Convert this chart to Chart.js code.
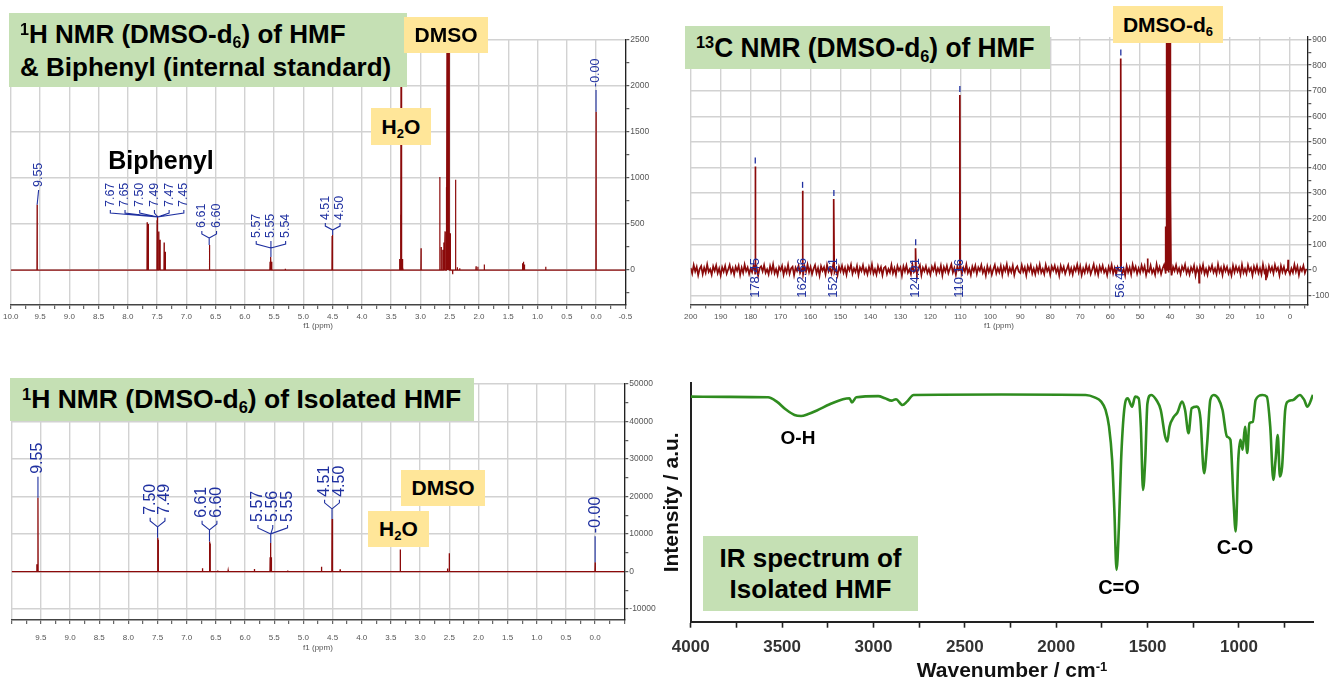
<!DOCTYPE html>
<html>
<head>
<meta charset="utf-8">
<script src="https://cdn.jsdelivr.net/npm/chart.js@4.4.1/dist/chart.umd.min.js"></script>
<style>
  html, body { margin: 0; padding: 0; background: #fff; }
  body { width: 1332px; height: 682px; position: relative; overflow: hidden;
         font-family: "Liberation Sans", Arial, sans-serif; }
  canvas { position: absolute; }
  .box { position: absolute; box-sizing: border-box; font-weight: bold; color: #000;
         display: flex; flex-direction: column; justify-content: center; white-space: nowrap; }
  .green { background: #c5e0b4; }
  .yellow { background: #ffe699; align-items: center; }
  .center { align-items: center; }
  .narrow { display: inline-block; transform-origin: left center; }
  .tag { position: absolute; font-weight: bold; color: #000; line-height: 1;
         transform: translate(-50%, -50%); white-space: nowrap; }
  sub { font-size: 62%; vertical-align: baseline; position: relative; top: 0.32em; }
  sup { font-size: 62%; vertical-align: baseline; position: relative; top: -0.48em; }
</style>
</head>
<body>
<canvas id="mix" width="660" height="335" style="left:0px;top:0px"></canvas>
<canvas id="carbon" width="672" height="335" style="left:660px;top:0px"></canvas>
<canvas id="iso" width="660" height="322" style="left:0px;top:360px"></canvas>
<canvas id="ir" width="692" height="322" style="left:640px;top:360px"></canvas>

<!-- 1H NMR of HMF + biphenyl -->
<div class="box green" style="left:9px;top:13px;width:398px;height:74px;padding-left:11px;font-size:26px;line-height:30px;">
  <div><sup>1</sup>H NMR (DMSO-d<sub>6</sub>) of HMF</div>
  <div>&amp; Biphenyl (internal standard)</div>
</div>
<div class="box yellow" style="left:404px;top:17px;width:84px;height:36px;font-size:21px;">DMSO</div>
<div class="box yellow" style="left:371px;top:108px;width:60px;height:37px;font-size:21px;"><span>H<sub>2</sub>O</span></div>
<div class="tag" style="left:161px;top:160px;font-size:25px;">Biphenyl</div>

<!-- 13C NMR -->
<div class="box green" style="left:685px;top:26px;width:365px;height:43px;padding-left:11px;font-size:28px;">
  <div><span class="narrow" style="transform:scaleX(0.94)"><sup>13</sup>C NMR (DMSO-d<sub>6</sub>) of HMF</span></div>
</div>
<div class="box yellow" style="left:1113px;top:6px;width:110px;height:37px;font-size:21px;"><span>DMSO-d<sub>6</sub></span></div>

<!-- 1H NMR of isolated HMF -->
<div class="box green" style="left:10px;top:378px;width:464px;height:43px;padding-left:12px;font-size:26.5px;">
  <div><sup>1</sup>H NMR (DMSO-d<sub>6</sub>) of Isolated HMF</div>
</div>
<div class="box yellow" style="left:401px;top:470px;width:84px;height:36px;font-size:21px;">DMSO</div>
<div class="box yellow" style="left:368px;top:511px;width:61px;height:36px;font-size:21px;"><span>H<sub>2</sub>O</span></div>

<!-- IR spectrum -->
<div class="box green center" style="left:703px;top:536px;width:215px;height:75px;font-size:26px;line-height:31px;">
  <div>IR spectrum of</div>
  <div>Isolated HMF</div>
</div>
<div class="tag" style="left:798px;top:437px;font-size:19px;">O-H</div>
<div class="tag" style="left:1119px;top:587px;font-size:20px;">C=O</div>
<div class="tag" style="left:1235px;top:547px;font-size:20px;">C-O</div>
<div class="tag" style="left:1012px;top:669px;font-size:21px;color:#111;">Wavenumber / cm<sup>-1</sup></div>

<script>
// ---------------- data ----------------

// 1H NMR (DMSO-d6) of HMF with biphenyl: peak shifts (ppm) and intensities
const mixShift = [9.55, 7.67, 7.65, 7.50, 7.49, 7.47, 7.45, 7.38, 7.36, 6.61, 6.60,
  5.57, 5.555, 5.54, 5.31, 4.51, 4.50, 3.36, 3.35, 3.34, 3.33, 3.32, 3.31, 3.30,
  2.99, 2.67, 2.645, 2.62, 2.60, 2.58, 2.56, 2.545, 2.53, 2.51, 2.49, 2.45, 2.40,
  2.37, 2.33, 2.05, 2.02, 1.91, 1.26, 1.25, 1.24, 1.23, 1.22, 0.86, 0.00];
const mixIntensity = [710, 520, 500, 540, 590, 420, 330, 300, 200, 272, 250,
  90, 141, 90, 15, 370, 380, 30, 120, 600, 3500, 600, 120, 30,
  236, 1010, 250, 220, 300, 420, 900, 3500, 600, 3500, 400, -45, 980,
  30, 20, 40, 35, 60, 40, 75, 90, 60, 30, 35, 1720];
const mixXTicks = ['10.0', '9.5', '9.0', '8.5', '8.0', '7.5', '7.0', '6.5', '6.0', '5.5', '5.0',
  '4.5', '4.0', '3.5', '3.0', '2.5', '2.0', '1.5', '1.0', '0.5', '0.0', '-0.5'];
const mixYTicks = ['2500', '2000', '1500', '1000', '500', '0'];
const mixLabels = [['9.55'], ['7.67', '7.65', '7.50', '7.49', '7.47', '7.45'], ['6.61', '6.60'],
  ['5.57', '5.55', '5.54'], ['4.51', '4.50'], ['-0.00']];

// 13C NMR (DMSO-d6) of HMF: peak shifts (ppm) and intensities
const carbonShift = [178.45, 162.66, 152.21, 124.91, 110.16, 56.44, 47.5,
  41.5, 41.2, 40.9, 40.6, 40.3, 40.0, 39.8, 30.3, 8.0, 0.6];
const carbonIntensity = [404, 309, 277, 85, 683, 826, 45,
  170, 1200, 2400, 3000, 2400, 1200, 330, -50, -40, 40];
// baseline noise, one value every 0.5 ppm starting at 200 ppm
const carbonNoise = [
  8, -14, 19, -6, 12, -21, 4, 15, -17, 9, -11, 22, -8, 3, -19, 14, -4, 18, -13, 6,
  -22, 11, -7, 16, -15, 2, 20, -10, 7, -18, 13, -3, 17, -20, 9, -12, 21, -5, 10, -16,
  5, -9, 18, -14, 12, -23, 7, 14, -6, 19, -11, 3, -17, 15, -8, 22, -13, 4, -20, 11,
  -2, 16, -19, 8, -10, 20, -15, 6, 13, -21, 9, -4, 17, -12, 2, -18, 14, -7, 21, -9,
  12, -16, 5, 19, -13, 8, -22, 15, -3, 11, -17, 20, -6, 7, -14, 18, -10, 3, -21, 13,
  -5, 17, -11, 9, -19, 14, -2, 21, -15, 6, -8, 16, -20, 10, -4, 19, -12, 5, -17, 12,
  -9, 22, -14, 3, -18, 15, -7, 11, -21, 8, 13, -16, 4, -10, 20, -13, 7, -19, 16, -3,
  10, -22, 14, -6, 18, -11, 2, -17, 21, -8, 12, -15, 6, 19, -20, 9, -5, 15, -12, 4,
  -18, 13, -3, 20, -14, 7, -9, 17, -21, 11, -6, 16, -13, 5, 22, -10, 8, -19, 14, -2,
  18, -15, 9, -7, 21, -12, 4, -20, 13, -5, 17, -16, 10, -3, 19, -11, 6, -22, 15, -8,
  11, -18, 3, 20, -13, 7, -10, 16, -19, 12, -4, 22, -15, 8, -9, 17, -20, 5, 14, -6,
  -12, 19, -7, 10, -21, 15, -3, 18, -14, 6, -17, 13, -8, 21, -11, 4, -16, 20, -5, 9,
  -19, 14, -2, 17, -10, 8, -22, 16, -6, 12, -15, 3, 19, -13, 7, -18, 11, -4, 21, -9,
  15, -20, 6, -11, 18, -7, 13, -16, 2, 22, -12, 9, -19, 14, -5, 17, -10, 4, -21, 12,
  -6, 20, -14, 8, -17, 11, -3, 19, -13, 5, -22, 16, -9, 10, -18, 21, -4, 13, -15, 7,
  -11, 18, -5, 15, -20, 9, -8, 17, -12, 3, -19, 22, -7, 11, -16, 6, 20, -14, 2, -10,
  16, -21, 12, -4, 19, -9, 7, -17, 14, -2, 21, -13, 5, -18, 10, -6, 17, -22, 8, -12,
  13, -7, 20, -15, 4, -19, 11, -3, 18, -10, 6, -16, 22, -8, 9, -20, 15, -5, 12, -14,
  3, -21, 17, -9, 14, -6, 10, -18, 21, -11, 5, -15, 19, -4, 8, -22, 13, -7, 16, -12,
  7, -17, 22, -10, 4, -19, 15, -6, 11, -14, 20, -3, 9, -21, 16, -8, 12, -13, 2, 18,
  -16, 6, -11, 21, -7, 14, -20, 9, -4, 17, -12, 5];
const carbonXTicks = ['200', '190', '180', '170', '160', '150', '140', '130', '120', '110', '100',
  '90', '80', '70', '60', '50', '40', '30', '20', '10', '0'];
const carbonYTicks = ['900', '800', '700', '600', '500', '400', '300', '200', '100', '0', '-100'];
const carbonLabels = ['178.45', '162.66', '152.21', '124.91', '110.16', '56.44'];

// 1H NMR (DMSO-d6) of isolated HMF: peak shifts (ppm) and intensities
const isoShift = [9.57, 9.55, 7.50, 7.49, 6.73, 6.61, 6.60, 6.47, 6.29, 5.84, 5.57, 5.56, 5.55,
  5.27, 4.69, 4.51, 4.50, 4.37, 3.34, 2.53, 2.50, 0.00];
const isoIntensity = [1950, 19700, 9000, 8500, 900, 8000, 7500, 300, 300, 700, 3800, 7600, 3800,
  300, 1300, 14000, 13000, 600, 5900, 800, 4900, 2500];
const isoXTicks = ['9.5', '9.0', '8.5', '8.0', '7.5', '7.0', '6.5', '6.0', '5.5', '5.0',
  '4.5', '4.0', '3.5', '3.0', '2.5', '2.0', '1.5', '1.0', '0.5', '0.0'];
const isoYTicks = ['50000', '40000', '30000', '20000', '10000', '0', '-10000'];
const isoLabels = [['9.55'], ['7.50', '7.49'], ['6.61', '6.60'], ['5.57', '5.56', '5.55'],
  ['4.51', '4.50'], ['-0.00']];

// IR spectrum of isolated HMF: wavenumber (cm-1) and intensity (a.u.)
const irWavenumber = [4000, 3800, 3577, 3529, 3481, 3432, 3396, 3360, 3312, 3239, 3167, 3131,
  3118, 3094, 2974, 2937, 2901, 2877, 2841, 2817, 2780, 2300, 1839, 1790, 1754, 1730, 1711,
  1694, 1682, 1670, 1657, 1645, 1628, 1609, 1585, 1568, 1549, 1537, 1525, 1513, 1501, 1481,
  1452, 1428, 1404, 1392, 1380, 1356, 1337, 1312, 1295, 1276, 1259, 1230, 1211, 1191, 1174,
  1157, 1138, 1114, 1090, 1066, 1047, 1030, 1018, 1004, 992, 980, 967, 955, 943, 924, 909,
  872, 848, 829, 812, 800, 788, 776, 764, 747, 733, 704, 667, 643, 626, 595];
const irSignal = [94.3, 94.2, 94.0, 92.2, 89.0, 86.6, 86.2, 86.9, 88.4, 91.1, 93.2, 93.6,
  91.8, 94.0, 94.5, 93.6, 92.6, 93.2, 90.8, 92.2, 95.0, 95.2, 95.0, 94.0, 92.2, 88.7, 81.7,
  67.7, 46.8, 21.7, 39.8, 67.7, 88.7, 93.6, 90.1, 94.3, 93.6, 81.7, 55.2, 67.7, 91.4, 95.0,
  92.9, 88.7, 77.6, 75.5, 81.7, 85.9, 87.6, 92.2, 88.7, 79.0, 89.4, 90.1, 85.2, 62.2, 74.8,
  92.9, 95.0, 93.6, 88.7, 77.6, 76.2, 51.1, 37.8, 67.7, 76.2, 72.1, 81.7, 70.7, 83.1, 83.8, 92.9,
  95.0, 94.3, 81.7, 59.4, 67.7, 78.2, 60.8, 65.0, 88.7, 92.2, 92.9, 95.0, 92.9, 90.1, 95.0];
const irXTicks = ['4000', '3500', '3000', '2500', '2000', '1500', '1000'];

// ---------------- helpers ----------------
const FONT = '"Liberation Sans", Arial, sans-serif';
const RED = '#8b0a0a';
const BLUE = '#1f30a0';
const GRID = '#d2d2d2';

// spectrum trace: a baseline (flat or noisy) with a narrow spike at every peak
function spectrumTrace(shift, intensity, from, to, half, noise, noiseStep) {
  const pts = [];
  if (noise) noise.forEach((v, i) => pts.push({ x: from - i * noiseStep, y: v }));
  else pts.push({ x: from, y: 0 }, { x: to, y: 0 });
  shift.forEach((s, i) => {
    pts.push({ x: s + half, y: 0 }, { x: s, y: intensity[i] }, { x: s - half, y: 0 });
  });
  pts.sort((a, b) => b.x - a.x);
  return pts;
}

// tick marks every `minor`, grid lines on every `major`, text only for listed labels
function axisTicks(labels, lo, hi, minor, major, descending) {
  const marks = [];
  const first = Math.ceil(lo / minor - 1e-9);
  for (let k = first; k * minor <= hi + 1e-9; k++) {
    const val = Math.round(k * minor * 1000) / 1000;
    const isMajor = Math.abs(val / major - Math.round(val / major)) < 1e-6;
    const lab = labels.find(l => Math.abs(parseFloat(l) - val) < 1e-6);
    marks.push({ value: val, isMajor, text: lab || '' });
  }
  if (descending) marks.reverse();
  return marks;
}

// tallest peak inside the shift range covered by a label group
function peakFor(texts, shift, intensity) {
  const vals = texts.map(parseFloat);
  const lo = Math.min(...vals) - 0.0005, hi = Math.max(...vals) + 0.0005;
  let best = null;
  shift.forEach((s, i) => {
    if (s >= lo && s <= hi && (best === null || intensity[i] > best.h)) best = { x: s, h: intensity[i] };
  });
  return best;
}

// multiplet labels drawn above peaks, with bracket lines down to the peak top
function multipletLabels(groups, shift, intensity, style) {
  return {
    id: 'multipletLabels',
    afterDatasetsDraw(chart) {
      const { ctx } = chart;
      const xs = chart.scales.x, ys = chart.scales.y;
      ctx.save();
      ctx.fillStyle = BLUE; ctx.strokeStyle = BLUE; ctx.lineWidth = 1.1;
      ctx.font = style.size + 'px ' + FONT;
      ctx.textAlign = 'left'; ctx.textBaseline = 'middle';
      groups.forEach((texts, gi) => {
        const pk = peakFor(texts, shift, intensity);
        const jx = xs.getPixelForValue(pk.x);
        const py = ys.getPixelForValue(pk.h);
        const yb = ys.getPixelForValue(style.textBase[gi]);
        const lc = jx + (style.dx[gi] || 0);
        const n = texts.length;
        const xsPos = texts.map((t, i) => lc + (i - (n - 1) / 2) * style.spacing);
        texts.forEach((t, i) => {
          ctx.save(); ctx.translate(xsPos[i], yb); ctx.rotate(-Math.PI / 2);
          ctx.fillText(t, 0, 0); ctx.restore();
        });
        ctx.beginPath();
        if (n === 1) {
          ctx.moveTo(lc, yb + 3); ctx.lineTo(jx, py);
        } else {
          const jy = yb + style.join;
          xsPos.forEach(x => { ctx.moveTo(x, yb + 3); ctx.lineTo(x, yb + 6); ctx.lineTo(jx, jy); });
          ctx.moveTo(jx, jy); ctx.lineTo(jx, Math.max(jy, py));
        }
        ctx.stroke();
      });
      ctx.restore();
    }
  };
}

// single-peak labels written below the baseline, short mark above each peak
function shiftLabelsBelow(texts, shift, intensity, style) {
  return {
    id: 'shiftLabelsBelow',
    afterDatasetsDraw(chart) {
      const { ctx } = chart;
      const xs = chart.scales.x, ys = chart.scales.y;
      ctx.save();
      ctx.fillStyle = BLUE; ctx.strokeStyle = BLUE; ctx.lineWidth = 1.3;
      ctx.font = style.size + 'px ' + FONT;
      ctx.textAlign = 'left'; ctx.textBaseline = 'middle';
      texts.forEach(t => {
        const pk = peakFor([t], shift, intensity);
        const px = xs.getPixelForValue(pk.x);
        const py = ys.getPixelForValue(pk.h);
        const yb = ys.getPixelForValue(style.textBase);
        ctx.save(); ctx.translate(px, yb); ctx.rotate(-Math.PI / 2);
        ctx.fillText(t, 0, 0); ctx.restore();
        ctx.beginPath(); ctx.moveTo(px, py - 9); ctx.lineTo(px, py - 3); ctx.stroke();
      });
      ctx.restore();
    }
  };
}

function nmrChart(id, c) {
  const tickFont = { size: 8, family: FONT };
  return new Chart(document.getElementById(id), {
    type: 'line',
    data: { datasets: [{ data: c.trace, borderColor: RED, borderWidth: c.lineWidth,
      pointRadius: 0, tension: 0, fill: false }] },
    options: {
      responsive: false, animation: false, events: [],
      layout: { padding: c.pad },
      plugins: { legend: { display: false }, tooltip: { enabled: false } },
      scales: {
        x: {
          type: 'linear', position: 'bottom', reverse: true, min: c.xMin, max: c.xMax,
          afterBuildTicks: s => { s.ticks = c.xTicks.map(t => ({ ...t })); },
          afterFit: s => { s.height = c.xHeight; },
          ticks: { autoSkip: false, maxRotation: 0, minRotation: 0, padding: c.xPad,
            color: '#555', font: tickFont, callback: (v, i, t) => (t[i] ? t[i].text : '') },
          grid: { color: g => (g.tick && g.tick.isMajor ? GRID : 'rgba(0,0,0,0)'),
            lineWidth: 1.4, tickColor: '#444', tickLength: 4, tickWidth: 1 },
          border: { display: true, color: '#444', width: 1.6 },
          title: { display: true, text: 'f1 (ppm)', color: '#555', font: tickFont,
            padding: { top: 0, bottom: c.titlePad } }
        },
        y: {
          type: 'linear', position: 'right', min: c.yMin, max: c.yMax,
          afterBuildTicks: s => { s.ticks = c.yTicks.map(t => ({ ...t })); },
          afterFit: s => { s.width = c.yWidth; },
          ticks: { autoSkip: false, padding: 1, color: '#555', font: { size: 8.5, family: FONT },
            callback: (v, i, t) => (t[i] ? t[i].text : '') },
          grid: { color: g => (g.tick && g.tick.isMajor ? GRID : 'rgba(0,0,0,0)'),
            lineWidth: 1.4, tickColor: '#333', tickLength: 4, tickWidth: 1 },
          border: { display: true, color: '#222', width: 1.3 }
        }
      }
    },
    plugins: [c.labels]
  });
}

// ---------------- charts ----------------

// 1H NMR of HMF + biphenyl
nmrChart('mix', {
  trace: spectrumTrace(mixShift, mixIntensity, 10, -0.5, 0.003),
  lineWidth: 1.2,
  pad: { left: 10.3, top: 40, right: 0, bottom: 0 },
  xMin: -0.5, xMax: 10, yMin: -380, yMax: 2500,
  xTicks: axisTicks(mixXTicks, -0.5, 10, 0.25, 0.5, true),
  yTicks: axisTicks(mixYTicks, -380, 2500, 250, 500, false),
  xHeight: 30, yWidth: 34.7, xPad: 3, titlePad: 4,
  labels: multipletLabels(mixLabels, mixShift, mixIntensity, {
    size: 12.5, spacing: 14.7, join: 10,
    textBase: [902, 685, 457, 348, 543, 1989], dx: [1.5, -10.6, 0, 0, 0, 0]
  })
});

// 13C NMR of HMF
nmrChart('carbon', {
  trace: spectrumTrace(carbonShift, carbonIntensity, 200, -5.8, 0.12, carbonNoise, 0.5),
  lineWidth: 1.7,
  pad: { left: 30.7, top: 37, right: 0, bottom: 0 },
  xMin: -5.8, xMax: 200, yMin: -135, yMax: 910,
  xTicks: axisTicks(carbonXTicks, -5.8, 200, 5, 10, true),
  yTicks: axisTicks(carbonYTicks, -135, 910, 50, 100, false),
  xHeight: 30.5, yWidth: 24.7, xPad: 3, titlePad: 4,
  labels: shiftLabelsBelow(carbonLabels, carbonShift, carbonIntensity, { size: 13, textBase: -109 })
});

// 1H NMR of isolated HMF
nmrChart('iso', {
  trace: spectrumTrace(isoShift, isoIntensity, 10, -0.5, 0.003),
  lineWidth: 1.3,
  pad: { left: 11.7, top: 24, right: 0, bottom: 0 },
  xMin: -0.5, xMax: 10, yMin: -12900, yMax: 50000,
  xTicks: axisTicks(isoXTicks, -0.5, 10, 0.25, 0.5, true),
  yTicks: axisTicks(isoYTicks, -12900, 50000, 5000, 10000, false),
  xHeight: 62, yWidth: 35.7, xPad: 9, titlePad: 29,
  labels: multipletLabels(isoLabels, isoShift, isoIntensity, {
    size: 16, spacing: 14.8, join: 12,
    textBase: [26050, 15120, 14320, 13250, 19920, 10240], dx: [0, 0, 0, 2, 0, 0]
  })
});

// IR spectrum of isolated HMF
new Chart(document.getElementById('ir'), {
  type: 'line',
  data: { datasets: [{
    data: irWavenumber.map((w, i) => ({ x: w, y: irSignal[i] })),
    borderColor: '#2f8c1f', borderWidth: 2.6, pointRadius: 0, fill: false,
    cubicInterpolationMode: 'monotone'
  }] },
  options: {
    responsive: false, animation: false, events: [],
    layout: { padding: { left: 0, top: 23, right: 19, bottom: 0 } },
    plugins: { legend: { display: false }, tooltip: { enabled: false } },
    scales: {
      x: {
        type: 'linear', reverse: true, min: 595, max: 4000,
        afterBuildTicks: s => { s.ticks = axisTicks(irXTicks, 595, 4000, 250, 500, true); },
        afterFit: s => { s.height = 60.3; },
        ticks: { autoSkip: false, maxRotation: 0, padding: 9, color: '#333',
          font: { size: 17, weight: 'bold', family: FONT },
          callback: (v, i, t) => (t[i] ? t[i].text : '') },
        grid: { drawOnChartArea: false, tickLength: 6, tickColor: '#222', tickWidth: 1.6 },
        border: { display: true, color: '#222', width: 2 }
      },
      y: {
        type: 'linear', min: 0, max: 100,
        afterFit: s => { s.width = 50.7; },
        ticks: { display: false },
        grid: { drawOnChartArea: false, drawTicks: false },
        border: { display: true, color: '#222', width: 2 },
        title: { display: true, text: 'Intensity / a.u.', color: '#111',
          font: { size: 21, weight: 'bold', family: FONT }, padding: { top: 20, bottom: 0 } }
      }
    }
  }
});
</script>
</body>
</html>
